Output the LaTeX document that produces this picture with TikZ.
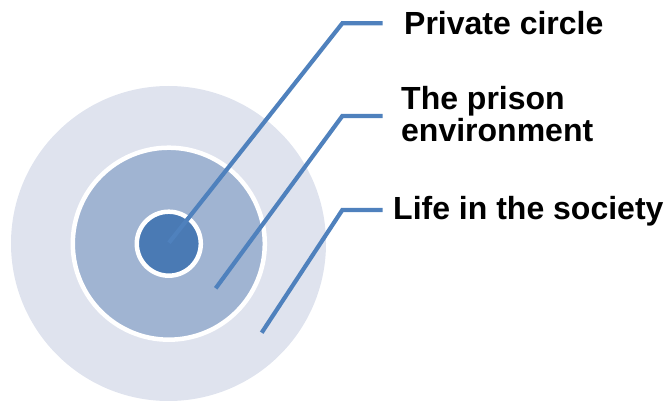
\documentclass[tikz,border=0pt]{standalone}
\usepackage{fontspec}
\setmainfont{Liberation Sans}
\begin{document}
\begin{tikzpicture}[x=1pt,y=-1pt,
  ring/.style={circle,inner sep=0pt,draw=white,line width=4.5pt},
  conn/.style={draw=lineblue,line width=4.2pt,line join=miter},
  lbl/.style={anchor=base west,inner sep=0pt,align=left,font=\bfseries\fontsize{32}{31.7}\selectfont}]
\definecolor{outerc}{HTML}{DFE3EE}
\definecolor{midc}{HTML}{A0B4D2}
\definecolor{innerc}{HTML}{4A7AB4}
\definecolor{lineblue}{HTML}{4F81BD}
\useasboundingbox (0,0) rectangle (672,401);
\node[circle,inner sep=0pt,fill=outerc,minimum size=315pt] (outer) at (168.5,243.5) {};
\node[ring,fill=midc,minimum size=192pt] (mid) at (168.8,243.7) {};
\node[ring,fill=innerc,minimum size=64pt] (inner) at (168.8,243.7) {};
\coordinate (s1) at (169,242.7);
\coordinate (s2) at (215.7,288.3);
\coordinate (s3) at (261.7,332.7);
\coordinate (e1) at (342.3,23.3);
\coordinate (e2) at (342.3,116);
\coordinate (e3) at (342.3,210);
\coordinate (t1) at (382.7,23.3);
\coordinate (t2) at (382.7,116);
\coordinate (t3) at (382.7,210);
\node[lbl] (l1) at (404,35) {Private circle};
\node[lbl] (l2) at (401,141.7) {The prison\\environment};
\node[lbl] (l3) at (393,219) {Life in the society};
\draw[conn] (s1) -- (e1) -- (t1);
\draw[conn] (s2) -- (e2) -- (t2);
\draw[conn] (s3) -- (e3) -- (t3);
\end{tikzpicture}
\end{document}
